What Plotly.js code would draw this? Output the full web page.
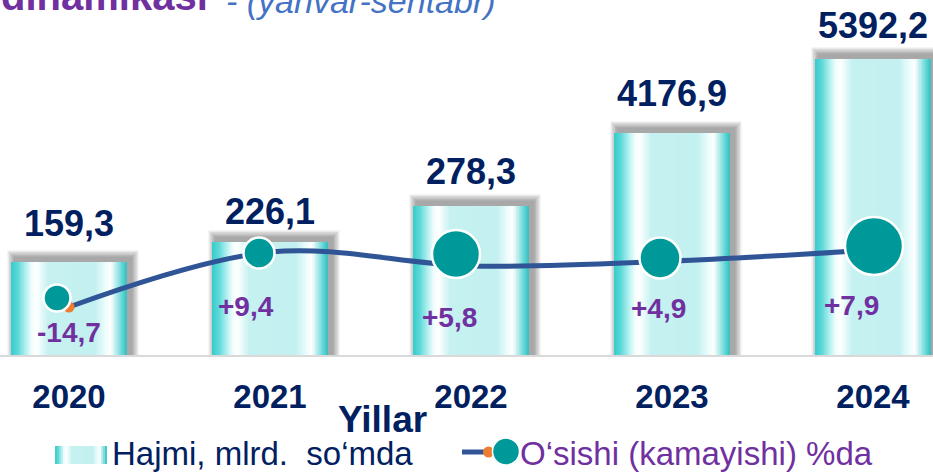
<!DOCTYPE html>
<html>
<head>
<meta charset="utf-8">
<script src="https://cdn.plot.ly/plotly-3.0.1.min.js"></script>
<style>
  html, body { margin: 0; padding: 0; background: #ffffff; }
  #chart { width: 933px; height: 472px; }
</style>
</head>
<body>
<div id="chart"></div>
<script>
// ---------------- DATA ----------------
const categories   = ['2020', '2021', '2022', '2023', '2024'];
const volumeLabels = ['159,3', '226,1', '278,3', '4176,9', '5392,2'];
// drawn bar heights as they appear in the picture (bars are not to scale)
const barHeights   = [93, 113, 149, 222, 296];
const growthLabels = ['-14,7', '+9,4', '+5,8', '+4,9', '+7,9'];
// level of the growth line and of its round markers as drawn in the picture
const growthLevel  = [48, 103, 89, 94, 105];
const markerLevel  = [57, 102, 101, 97, 109];

const seriesBarName  = 'Hajmi, mlrd.\u00a0\u00a0so\u2018mda';
const seriesLineName = 'O\u2018sishi (kamayishi) %da';
const axisTitle      = 'Yillar';
const titleMain      = 'dinamikasi';
const titleSub       = '- (yanvar-sentabr)';

// ---------------- STYLE ----------------
const W = 933, H = 472, BASE = 355;      // plot area: full width, bottom at y=355px
const PX = 201;                           // pixels per category step
const X0 = 69;                            // pixel of first category
const FONT = 'Liberation Sans, Arial, sans-serif';
const NAVY = '#002060', PURPLE = '#7030a0', TEAL = '#009999', BLUE = '#2f5597';
const BAR_W = 116 / PX;
const markerSize     = [27, 31, 48, 41, 58];
const markerNudgePx  = [-12, -11, -15, -12, 1];
const pctLabelLevel  = [23, 49, 38, 47, 50];
const pctLabelNudgePx= [0, -24, -22, -14, -22];
const valueLabelGap  = [39, 31, 35, 40, 34];

const gradStops = [
  [0.00, [53, 204, 204]], [0.06, [95, 216, 216]], [0.12, [170, 238, 238]],
  [0.18, [242, 253, 253]], [0.22, [255, 255, 255]], [0.32, [198, 241, 241]],
  [0.72, [195, 240, 240]], [0.80, [230, 250, 250]], [0.86, [255, 255, 255]],
  [0.92, [159, 230, 230]], [0.97, [79, 208, 208]], [1.00, [59, 188, 188]]
];
function gradColor(t) {
  for (let k = 1; k < gradStops.length; k++) {
    if (t <= gradStops[k][0]) {
      const [t0, c0] = gradStops[k - 1], [t1, c1] = gradStops[k];
      const f = (t - t0) / (t1 - t0);
      const c = c0.map((v, j) => Math.round(v + (c1[j] - v) * f));
      return 'rgb(' + c.join(',') + ')';
    }
  }
  return 'rgb(' + gradStops[gradStops.length - 1][1].join(',') + ')';
}

const xIdx = categories.map((c, i) => i);
const traces = [];

// soft drop shadow behind bars
for (let k = 1; k <= 5; k++) {
  const e = 1.5 * k;
  traces.push({
    type: 'bar', x: xIdx, y: barHeights.map(v => v + 4 + e),
    width: BAR_W + 2 * e / PX, offset: -BAR_W / 2 + (4 - e) / PX,
    marker: { color: 'rgba(0,0,0,0.08)', line: { width: 0 } },
    hoverinfo: 'skip', showlegend: false
  });
}
// cylinder-like bars: many thin overlapping strips with a horizontal gradient
const N = 80;
const step = BAR_W / N;
for (let s = 0; s < N; s++) {
  traces.push({
    type: 'bar', x: xIdx, y: barHeights,
    width: Math.min(4 * step, BAR_W - s * step), offset: -BAR_W / 2 + s * step,
    marker: { color: gradColor((s + 0.5) / N), line: { width: 0 } },
    hoverinfo: 'skip', showlegend: false, name: seriesBarName
  });
}
// growth line
traces.push({
  type: 'scatter', mode: 'lines+markers', x: xIdx, y: growthLevel,
  line: { color: BLUE, width: 5, shape: 'spline', smoothing: 1 },
  marker: { color: '#ed7d31', size: 11, opacity: 1 },
  cliponaxis: false, hoverinfo: 'skip', showlegend: false, name: seriesLineName
});
// round markers
traces.push({
  type: 'scatter', mode: 'markers',
  x: xIdx.map(i => i + markerNudgePx[i] / PX), y: markerLevel,
  marker: { color: TEAL, size: markerSize, opacity: 1, line: { color: '#ffffff', width: 2.5 } },
  cliponaxis: false, hoverinfo: 'skip', showlegend: false, name: seriesLineName
});

const px2x = p => p / W;
const py2y = p => (BASE - p) / BASE;

const annotations = [];
xIdx.forEach(i => {
  annotations.push({
    xref: 'x', yref: 'y', x: i, y: barHeights[i] + valueLabelGap[i], text: volumeLabels[i],
    showarrow: false, xanchor: 'center', yanchor: 'middle',
    font: { family: FONT, size: 36, color: NAVY, weight: 'bold' }
  });
  annotations.push({
    xref: 'x', yref: 'y', x: i + pctLabelNudgePx[i] / PX, y: pctLabelLevel[i],
    text: growthLabels[i], showarrow: false, xanchor: 'center', yanchor: 'middle',
    font: { family: FONT, size: 28, color: PURPLE, weight: 'bold' }
  });
});
// cropped title at the very top (the reference shows it cut by the top edge)
annotations.push({
  xref: 'paper', yref: 'paper', x: px2x(-1), y: py2y(10 - 0.3465 * 40),
  text: titleMain, showarrow: false, xanchor: 'left', yanchor: 'middle',
  font: { family: FONT, size: 40, color: PURPLE, weight: 'bold' }
});
annotations.push({
  xref: 'paper', yref: 'paper', x: px2x(224), y: py2y(13 - 0.3465 * 34),
  text: '<i>' + titleSub + '</i>', showarrow: false, xanchor: 'left', yanchor: 'middle',
  font: { family: FONT, size: 34, color: '#4472c4' }
});
// axis title
annotations.push({
  xref: 'paper', yref: 'paper', x: px2x(382), y: py2y(419), text: axisTitle,
  showarrow: false, xanchor: 'center', yanchor: 'middle',
  font: { family: FONT, size: 37, color: NAVY, weight: 'bold' }
});
// legend texts
annotations.push({
  xref: 'paper', yref: 'paper', x: px2x(110), y: py2y(453), text: seriesBarName,
  showarrow: false, xanchor: 'left', yanchor: 'middle',
  font: { family: FONT, size: 33, color: NAVY }
});
annotations.push({
  xref: 'paper', yref: 'paper', x: px2x(518), y: py2y(453), text: seriesLineName,
  showarrow: false, xanchor: 'left', yanchor: 'middle',
  font: { family: FONT, size: 33, color: PURPLE }
});

// legend symbols
const shapes = [];
const LN = 26, lx0 = 55, lx1 = 107, ly0 = 446, ly1 = 464;
for (let s = 0; s < LN; s++) {
  shapes.push({
    type: 'rect', xref: 'paper', yref: 'paper',
    x0: px2x(lx0 + (lx1 - lx0) * s / LN),
    x1: px2x(Math.min(lx1, lx0 + (lx1 - lx0) * (s + 3) / LN)),
    y0: py2y(ly1), y1: py2y(ly0),
    fillcolor: gradColor((s + 0.5) / LN), line: { width: 0 }
  });
}
shapes.push({
  type: 'line', xref: 'paper', yref: 'paper',
  x0: px2x(462), x1: px2x(490), y0: py2y(452), y1: py2y(452),
  line: { color: BLUE, width: 5 }
});
shapes.push({
  type: 'circle', xref: 'paper', yref: 'paper',
  x0: px2x(483), x1: px2x(494), y0: py2y(457.5), y1: py2y(446.5),
  fillcolor: '#ed7d31', line: { width: 0 }
});
shapes.push({
  type: 'circle', xref: 'paper', yref: 'paper',
  x0: px2x(492.5), x1: px2x(519.5), y0: py2y(465), y1: py2y(438),
  fillcolor: TEAL, line: { color: '#ffffff', width: 1.5 }
});

const layout = {
  width: W, height: H,
  margin: { l: 0, r: 0, t: 0, b: H - BASE, pad: 0 },
  paper_bgcolor: '#ffffff', plot_bgcolor: '#ffffff',
  barmode: 'overlay', showlegend: false,
  xaxis: {
    range: [-X0 / PX, (W - X0) / PX], tickvals: xIdx, ticktext: categories,
    showgrid: false, zeroline: false, showline: true, linecolor: '#d9d9d9', linewidth: 2,
    ticks: '', ticklabelstandoff: 11, fixedrange: true,
    tickfont: { family: FONT, size: 33, color: NAVY, weight: 'bold' }
  },
  yaxis: { range: [0, BASE], visible: false, fixedrange: true },
  annotations: annotations, shapes: shapes
};

Plotly.newPlot('chart', traces, layout, { displayModeBar: false, staticPlot: true });
</script>
</body>
</html>
